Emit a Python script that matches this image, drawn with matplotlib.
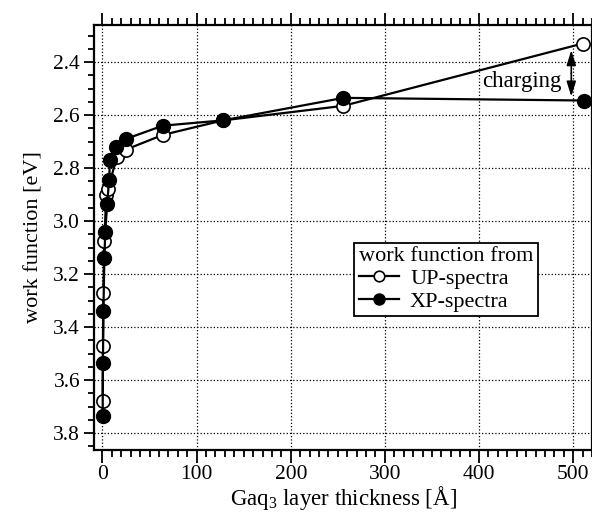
import matplotlib
matplotlib.use("Agg")
import matplotlib.pyplot as plt
from matplotlib.ticker import MultipleLocator, FormatStrFormatter

plt.rcParams['font.family'] = ['Liberation Serif', 'DejaVu Serif']
plt.rcParams['mathtext.fontset'] = 'custom'
plt.rcParams['mathtext.rm'] = 'Liberation Serif'
plt.rcParams['mathtext.it'] = 'Liberation Serif:italic'

# data
up_x = [0.2, 0.5, 1, 2, 4, 6, 15, 25, 64, 128, 256, 510]
up_y = [3.68, 3.47, 3.27, 3.075, 2.90, 2.88, 2.76, 2.73, 2.675, 2.62, 2.565, 2.33]
xp_x = [0.2, 0.5, 1, 2, 3, 5, 7, 8, 14, 25, 64, 128, 256, 512]
xp_y = [3.735, 3.535, 3.34, 3.14, 3.04, 2.935, 2.845, 2.77, 2.72, 2.69, 2.64, 2.62, 2.535, 2.545]

fig = plt.figure(figsize=(5.92, 5.12), dpi=100)
ax = fig.add_axes([94/592, 62/512, 498/592, 425/512])

ax.plot(up_x, up_y, '-o', color='black', mfc='white', mec='black', ms=9.5,
        lw=1.6, mew=1.2, label='UP-spectra', zorder=3)
ax.plot(xp_x, xp_y, '-o', color='black', mfc='black', mec='black', ms=10,
        lw=1.6, label='XP-spectra', zorder=4)

ax.set_xlim(-9, 520)
ax.set_ylim(3.864, 2.26)

ax.xaxis.set_major_locator(MultipleLocator(100))
ax.xaxis.set_minor_locator(MultipleLocator(10))
ax.yaxis.set_major_locator(MultipleLocator(0.2))
ax.yaxis.set_minor_locator(MultipleLocator(0.05))
ax.yaxis.set_major_formatter(FormatStrFormatter('%.1f'))

ax.tick_params(which='both', direction='out', top=True, right=True,
               labelsize=15.5, width=1.3)
ax.tick_params(axis='x', which='major', length=9, pad=2)
ax.tick_params(axis='x', which='minor', length=5)
ax.tick_params(axis='y', which='major', length=7, pad=3)
ax.tick_params(axis='y', which='minor', length=4.5)
for s in ax.spines.values():
    s.set_linewidth(1.6)

ax.grid(True, which='major', ls=':', color='black', lw=0.9)

ax.set_xlabel('Gaq$_3$ layer thickness [Å]', fontsize=16.5, labelpad=0)
ax.set_ylabel('work function [eV]', fontsize=16, labelpad=7)

arrow_x = 498
arrow_mid = 2.442
for yend in (2.355, 2.53):
    ax.annotate('', xy=(arrow_x, yend), xytext=(arrow_x, arrow_mid),
                arrowprops=dict(arrowstyle='-|>,head_length=0.45,head_width=0.14',
                                color='black', lw=1.2, mutation_scale=20,
                                shrinkA=0, shrinkB=0))
ax.text(445, 2.475, 'charging', fontsize=16.5, ha='center', va='center')

leg = ax.legend(title='work function from', loc='upper left',
                bbox_to_anchor=(0.523, 0.487), fontsize=16,
                title_fontsize=16, frameon=True, fancybox=False,
                framealpha=1, edgecolor='black', handlelength=1.8,
                borderpad=0.2, labelspacing=0.1, handletextpad=0.5,
                borderaxespad=0, markerscale=0.8)
leg.get_frame().set_linewidth(1.3)
leg._legend_box.align = 'left'

fig.savefig('out.png', dpi=100)
